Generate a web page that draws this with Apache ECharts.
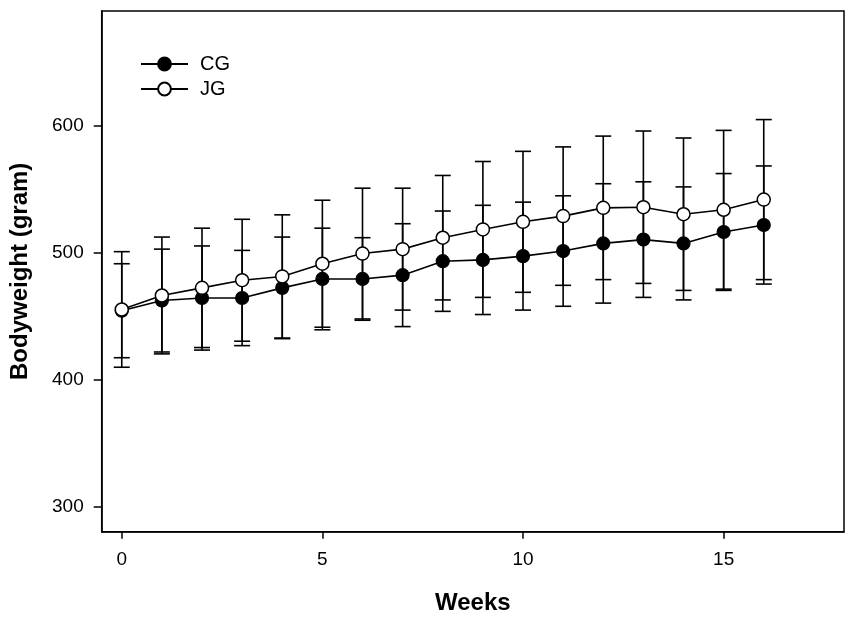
<!DOCTYPE html>
<html>
<head>
<meta charset="utf-8">
<script src="https://cdn.jsdelivr.net/npm/echarts@6/dist/echarts.min.js"></script>
<style>
html,body{margin:0;padding:0;background:#fff;}
#chart{width:851px;height:625px;}
</style>
</head>
<body>
<div id="chart"></div>
<script>
const weeks = [0,1,2,3,4,5,6,7,8,9,10,11,12,13,14,15,16];
const cgMean = [454, 462, 464, 464, 472, 479, 479, 482, 493, 494, 497, 501, 507, 510, 507, 516, 521.5];
const cgSD   = [37, 40.5, 41, 37.5, 40, 40, 32.5, 40.5, 39.5, 43, 42.5, 43.5, 47, 45.5, 44.5, 46, 46.5];
const jgMean = [455, 466, 472, 478, 481, 491, 499, 502.5, 511.5, 518, 524, 528.5, 535, 535.5, 530, 533.5, 541.5];
const jgSD   = [45.5, 46, 47, 48, 48.5, 50, 51.5, 48, 49, 53.5, 55.5, 54.5, 56.5, 60, 60, 62.5, 63];
const xTicks = [0, 5, 10, 15];
const yTicks = [300, 400, 500, 600];

const FONT = 'Liberation Sans, Arial, sans-serif';

function errData(mean, sd){
  return weeks.map((w,i)=>[w, mean[i]-sd[i], mean[i]+sd[i]]);
}
function errRender(params, api){
  const x = api.value(0);
  const lo = api.coord([x, api.value(1)]);
  const hi = api.coord([x, api.value(2)]);
  const hw = 8;
  const st = {stroke:'#000', lineWidth:1.6, fill:null};
  return {type:'group', children:[
    {type:'line', shape:{x1:lo[0],y1:lo[1],x2:hi[0],y2:hi[1]}, style:st},
    {type:'line', shape:{x1:lo[0]-hw,y1:lo[1],x2:lo[0]+hw,y2:lo[1]}, style:st},
    {type:'line', shape:{x1:hi[0]-hw,y1:hi[1],x2:hi[0]+hw,y2:hi[1]}, style:st}
  ]};
}

const chart = echarts.init(document.getElementById('chart'), null, {renderer:'canvas'});
chart.setOption({
  animation:false,
  backgroundColor:'#fff',
  textStyle:{fontFamily:FONT},
  grid:{left:101.7, right:7, top:11, bottom:93.3, show:true, borderColor:'#000', borderWidth:1.5, backgroundColor:'transparent'},
  legend:{
    orient:'vertical', left:135, top:49, itemWidth:47, itemHeight:16, itemGap:5,
    textStyle:{fontSize:20, color:'#000', fontFamily:FONT, padding:[0,0,0,7]},
    data:['CG','JG']
  },
  xAxis:{
    type:'value', min:-0.5, max:18,
    name:'Weeks', nameLocation:'middle', nameGap:60,
    nameTextStyle:{fontSize:24, fontWeight:'bold', color:'#000', fontFamily:FONT},
    axisLine:{show:true, onZero:false, lineStyle:{color:'#000', width:1.5}},
    axisTick:{show:true, inside:false, length:7, lineStyle:{color:'#000', width:1.5}, customValues:xTicks},
    axisLabel:{fontSize:19, color:'#000', margin:19, fontFamily:FONT, customValues:xTicks},
    splitLine:{show:false}
  },
  yAxis:{
    type:'value', min:280, max:690,
    name:'Bodyweight (gram)', nameLocation:'middle', nameGap:69, nameRotate:90,
    nameTextStyle:{fontSize:24, fontWeight:'bold', color:'#000', fontFamily:FONT},
    axisLine:{show:true, onZero:false, lineStyle:{color:'#000', width:1.5}},
    axisTick:{show:true, inside:false, length:8, lineStyle:{color:'#000', width:1.5}, customValues:yTicks},
    axisLabel:{fontSize:19, color:'#000', margin:18, fontFamily:FONT, customValues:yTicks},
    splitLine:{show:false}
  },
  series:[
    {type:'custom', name:'CG err', renderItem:errRender, data:errData(cgMean,cgSD), encode:{x:0,y:[1,2]}, z:1, silent:true},
    {type:'custom', name:'JG err', renderItem:errRender, data:errData(jgMean,jgSD), encode:{x:0,y:[1,2]}, z:1, silent:true},
    {type:'line', name:'CG', data:weeks.map((w,i)=>[w,cgMean[i]]), symbol:'circle', symbolSize:13,
      lineStyle:{color:'#000', width:1.6}, itemStyle:{color:'#000', borderColor:'#000', borderWidth:1.2}, z:3},
    {type:'line', name:'JG', data:weeks.map((w,i)=>[w,jgMean[i]]), symbol:'circle', symbolSize:13,
      lineStyle:{color:'#000', width:1.6}, itemStyle:{color:'#fff', borderColor:'#000', borderWidth:1.5}, z:4}
  ]
});
</script>
</body>
</html>
